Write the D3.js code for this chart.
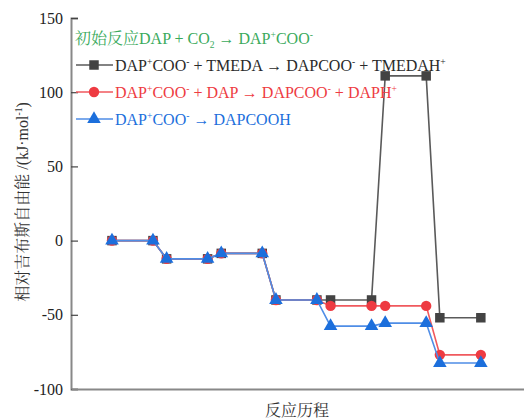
<!DOCTYPE html>
<html>
<head>
<meta charset="utf-8">
<script src="https://cdn.jsdelivr.net/npm/d3@7/dist/d3.min.js"></script>
<style>
  html, body { margin: 0; padding: 0; background: #fff; }
  svg { display: block; }
</style>
</head>
<body>
<svg id="chart" width="524" height="420"></svg>
<script>
// Reaction states along the pathway (each drawn as a short plateau)
const states = [0, 1, 2, 3, 4, 5, 6];
// Relative Gibbs free energy (kJ/mol) for each pathway
const tmedaPath = [0, -12.3, -8.6, -40, -40, 111, -52];
const dapPath   = [0, -12.3, -8.6, -40, -44, -44, -77];
const acidPath  = [0, -12.3, -8.6, -40, -57.6, -55.6, -82.5];
const yTicks = [150, 100, 50, 0, -50, -100];
const plateauWidth = 0.75;

const SERIF = '"Liberation Serif", "Times New Roman", serif';
const CJK = '"Noto Serif CJK SC", "Noto Sans CJK SC", serif';

const svg = d3.select("#chart");
const x = d3.scaleLinear().domain([-0.75, 7.54]).range([71, 524]);
const y = d3.scaleLinear().domain([-100, 150]).range([389, 18]);

// Expand each state into left/right plateau points
function pathPoints(values) {
  const pts = [];
  states.forEach((s, i) => {
    pts.push({ x: s, v: values[i] });
    pts.push({ x: s + plateauWidth, v: values[i] });
  });
  return pts;
}

// Write rich text: parts are [text, kind] with kind in n / sup / sub / cjk
function richText(t, parts, size) {
  let offset = 0;
  parts.forEach(([txt, kind]) => {
    const target = kind === "sup" ? -6 : kind === "sub" ? 4 : 0;
    const ts = t.append("tspan").attr("dy", target - offset).text(txt);
    offset = target;
    if (kind === "sup" || kind === "sub") ts.attr("font-size", size * 0.6);
    if (kind === "cjk") ts.style("font-family", CJK);
  });
}

// Axes
const yAxis = d3.axisLeft(y).tickValues(yTicks).tickSize(-7).tickPadding(8).tickFormat(d => String(d));
const gy = svg.append("g").attr("transform", "translate(71,0)").call(yAxis);
gy.select(".domain").attr("stroke", "#888").attr("stroke-width", 2);
gy.selectAll(".tick line").attr("stroke", "#444").attr("stroke-width", 1.2);
gy.selectAll(".tick text").style("font-family", SERIF).attr("font-size", 16).attr("fill", "#222");

const xAxis = d3.axisBottom(x).tickValues([]).tickSizeOuter(0);
const gx = svg.append("g").attr("transform", "translate(0,389)").call(xAxis);
gx.select(".domain").attr("stroke", "#888").attr("stroke-width", 2);

// Axis titles
svg.append("text").style("font-family", CJK).attr("x", 297).attr("y", 416)
  .attr("text-anchor", "middle").attr("font-size", 16).attr("fill", "#333").text("反应历程");

const yt = svg.append("text").style("font-family", SERIF)
  .attr("transform", "translate(28,202) rotate(-90)")
  .attr("text-anchor", "middle").attr("font-size", 16).attr("fill", "#333");
richText(yt, [["相对吉布斯自由能 ", "cjk"], ["/(kJ·mol", "n"], ["-1", "sup"], [")", "n"]], 16);

const line = d3.line().x(d => x(d.x)).y(d => y(d.v));

const series = [
  { data: tmedaPath, lineColor: "#5a5a5a", fill: "#434343", text: "#2a2a2a", shape: d3.symbolSquare, size: 90 },
  { data: dapPath,   lineColor: "#f0595e", fill: "#ee3b42", text: "#ee3b42", shape: d3.symbolCircle, size: 85 },
  { data: acidPath,  lineColor: "#4f8de6", fill: "#1c6fdc", text: "#1c6fdc", shape: d3.symbolTriangle, size: 80 }
];

series.forEach(s => {
  const pts = pathPoints(s.data);
  svg.append("path").datum(pts).attr("d", line)
    .attr("fill", "none").attr("stroke", s.lineColor).attr("stroke-width", 1.6);
  svg.append("g").selectAll("path").data(pts).join("path")
    .attr("d", d3.symbol().type(s.shape).size(s.size))
    .attr("transform", d => `translate(${x(d.x)},${y(d.v)})`)
    .attr("fill", s.fill);
});

// Legend
const lg = svg.append("g");
const FS = 16;

// Initial reaction header
const h = lg.append("text").style("font-family", SERIF).attr("x", 75).attr("y", 44)
  .attr("font-size", FS).attr("fill", "#3aaa5c");
richText(h, [["初始反应", "cjk"], ["DAP + CO", "n"], ["2", "sub"], [" → DAP", "n"], ["+", "sup"], ["COO", "n"], ["-", "sup"]], FS);

const entries = [
  { y: 65, s: series[0], parts: [["DAP", "n"], ["+", "sup"], ["COO", "n"], ["-", "sup"], [" + TMEDA → DAPCOO", "n"], ["-", "sup"], [" + TMEDAH", "n"], ["+", "sup"]] },
  { y: 92, s: series[1], parts: [["DAP", "n"], ["+", "sup"], ["COO", "n"], ["-", "sup"], [" + DAP → DAPCOO", "n"], ["-", "sup"], [" + DAPH", "n"], ["+", "sup"]] },
  { y: 119, s: series[2], parts: [["DAP", "n"], ["+", "sup"], ["COO", "n"], ["-", "sup"], [" → DAPCOOH", "n"]] }
];
entries.forEach(e => {
  lg.append("line").attr("x1", 76).attr("x2", 113).attr("y1", e.y).attr("y2", e.y)
    .attr("stroke", e.s.lineColor).attr("stroke-width", 1.6);
  lg.append("path").attr("d", d3.symbol().type(e.s.shape).size(e.s.size))
    .attr("transform", `translate(94,${e.y})`).attr("fill", e.s.fill);
  const t = lg.append("text").style("font-family", SERIF).attr("x", 115).attr("y", e.y + 6)
    .attr("font-size", FS).attr("fill", e.s.text);
  richText(t, e.parts, FS);
});
</script>
</body>
</html>
